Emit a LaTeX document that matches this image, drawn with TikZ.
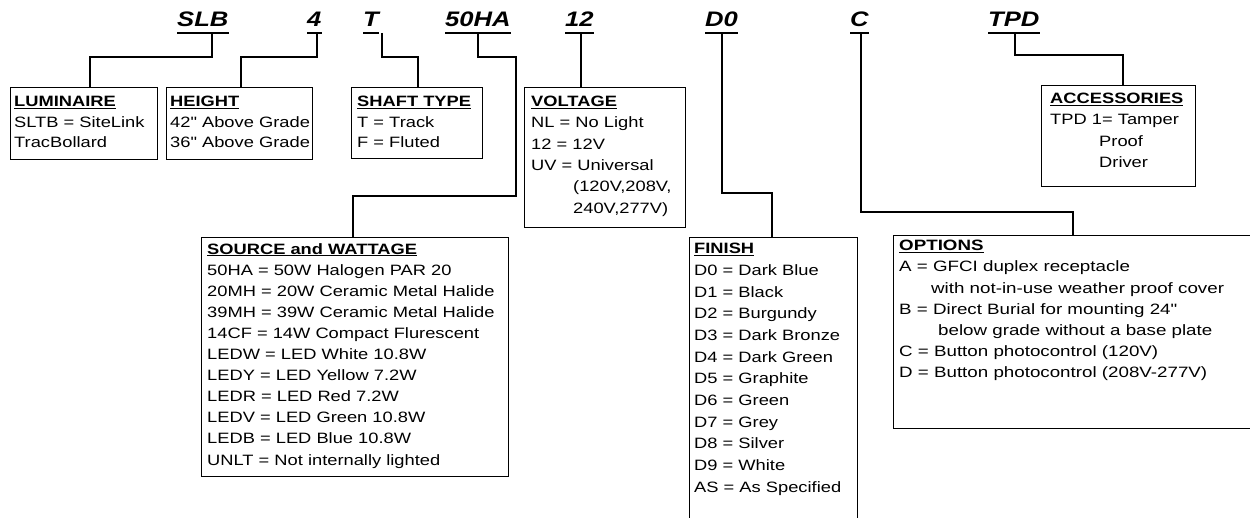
\documentclass[tikz,border=0pt]{standalone}
\usepackage{fontspec}
\setmainfont{Liberation Sans}[FakeStretch=1.22]
\newfontfamily\bodyf{Liberation Sans}[FakeStretch=1.22]
\newfontfamily\optf{Liberation Sans}[FakeStretch=1.25]
\begin{document}
\begin{tikzpicture}[x=1pt,y=-1pt,
  box/.style={draw,line width=1.4pt,anchor=north west,inner sep=0pt},
  txt/.style={anchor=north west,inner sep=0pt,align=left,font=\bodyf\fontsize{15}{#1}\selectfont},
  txt/.default=21.5,
  opttxt/.style={anchor=north west,inner sep=0pt,align=left,font=\optf\fontsize{15}{#1}\selectfont},
  code/.style={anchor=base west,inner sep=0pt,font=\fontsize{21}{24}\selectfont\bfseries\itshape},
  uline/.style={line width=1.6pt},
  link/.style={line width=1.3pt}]
\useasboundingbox (0,0) rectangle (1250,518);
\clip (0,0) rectangle (1250,518);
\newcommand{\ttl}[1]{\underline{\textbf{#1}}}
% codes
\node[code] (c1) at (177,27) {SLB};
\node[code] (c2) at (307,27) {4};
\node[code] (c3) at (363,27) {T};
\node[code] (c4) at (445,27) {50HA};
\node[code] (c5) at (565,27) {12};
\node[code] (c6) at (705,27) {D0};
\node[code] (c7) at (850,27) {C};
\node[code] (c8) at (988,27) {TPD};
\foreach \c in {c1,c2,c3,c4,c5,c6,c7,c8}
  \draw[uline] ([yshift=-6pt]\c.base west) -- ([yshift=-6pt]\c.base east);
% boxes
\node[box,minimum width=147pt,minimum height=72pt] (lum) at (10,87) {};
\node[box,minimum width=146pt,minimum height=72pt] (hgt) at (166,87) {};
\node[box,minimum width=131pt,minimum height=71pt] (shf) at (351,87) {};
\node[box,minimum width=161pt,minimum height=140pt] (vlt) at (524,87) {};
\node[box,minimum width=154pt,minimum height=101pt] (acc) at (1041,85) {};
\node[box,minimum width=307pt,minimum height=239pt] (src) at (201,237) {};
\node[box,minimum width=168pt,minimum height=300pt] (fin) at (689,237) {};
\node[box,minimum width=370pt,minimum height=193pt] (opt) at (893,235) {};
% texts
\node[txt=20.5] (tlum) at ([xshift=4pt,yshift=-9pt]lum.north west) {\ttl{LUMINAIRE}\\SLTB = SiteLink\\TracBollard};
\node[txt=20.5] (thgt) at ([xshift=4pt,yshift=-9pt]hgt.north west) {\ttl{HEIGHT}\\42" Above Grade\\36" Above Grade};
\node[txt=20.5] (tshf) at ([xshift=6pt,yshift=-9pt]shf.north west) {\ttl{SHAFT TYPE}\\T = Track\\F = Fluted};
\node[txt=21.3] (tvlt) at ([xshift=7pt,yshift=-9pt]vlt.north west) {\ttl{VOLTAGE}\\NL = No Light\\12 = 12V\\UV = Universal\\\hspace*{42pt}(120V,208V,\\\hspace*{42pt}240V,277V)};
\node[txt=21.2] (tacc) at ([xshift=9pt,yshift=-8pt]acc.north west) {\ttl{ACCESSORIES}\\TPD 1= Tamper\\\hspace*{49pt}Proof\\\hspace*{49pt}Driver};
\node[txt=21.1] (tsrc) at ([xshift=6pt,yshift=-6pt]src.north west) {\ttl{SOURCE and WATTAGE}\\50HA = 50W Halogen PAR 20\\20MH = 20W Ceramic Metal Halide\\39MH = 39W Ceramic Metal Halide\\14CF = 14W Compact Flurescent\\LEDW = LED White 10.8W\\LEDY = LED Yellow 7.2W\\LEDR = LED Red 7.2W\\LEDV = LED Green 10.8W\\LEDB = LED Blue 10.8W\\UNLT = Not internally lighted};
\node[txt=21.7] (tfin) at ([xshift=5pt,yshift=-6pt]fin.north west) {\ttl{FINISH}\\D0 = Dark Blue\\D1 = Black\\D2 = Burgundy\\D3 = Dark Bronze\\D4 = Dark Green\\D5 = Graphite\\D6 = Green\\D7 = Grey\\D8 = Silver\\D9 = White\\AS = As Specified};
\node[opttxt=21.2] (topt) at ([xshift=6pt,yshift=-5pt]opt.north west) {\ttl{OPTIONS}\\A = GFCI duplex receptacle\\\hspace*{32pt}with not-in-use weather proof cover\\B = Direct Burial for mounting 24"\\\hspace*{39pt}below grade without a base plate\\C = Button photocontrol (120V)\\D = Button photocontrol (208V-277V)};
% connector points
\coordinate (u1) at (212,33); \coordinate (k1) at (90,57);
\coordinate (u2) at (317,33); \coordinate (k2) at (241,57);
\coordinate (u3) at (382,33); \coordinate (k3) at (418,57);
\coordinate (u4) at (478,33); \coordinate (k4a) at (516,57); \coordinate (k4b) at (353,196);
\coordinate (u5) at (581,33);
\coordinate (u6) at (722,33); \coordinate (k6) at (772,193);
\coordinate (u7) at (861,33); \coordinate (k7) at (1073,212);
\coordinate (u8) at (1015,33); \coordinate (k8) at (1123,55);
% connectors
\draw[link] (u1) |- (k1) -- (k1 |- lum.north);
\draw[link] (u2) |- (k2) -- (k2 |- hgt.north);
\draw[link] (u3) |- (k3) -- (k3 |- shf.north);
\draw[link] (u4) |- (k4a) |- (k4b) -- (k4b |- src.north);
\draw[link] (u5) -- (u5 |- vlt.north);
\draw[link] (u6) |- (k6) -- (k6 |- fin.north);
\draw[link] (u7) |- (k7) -- (k7 |- opt.north);
\draw[link] (u8) |- (k8) -- (k8 |- acc.north);
\end{tikzpicture}
\end{document}
